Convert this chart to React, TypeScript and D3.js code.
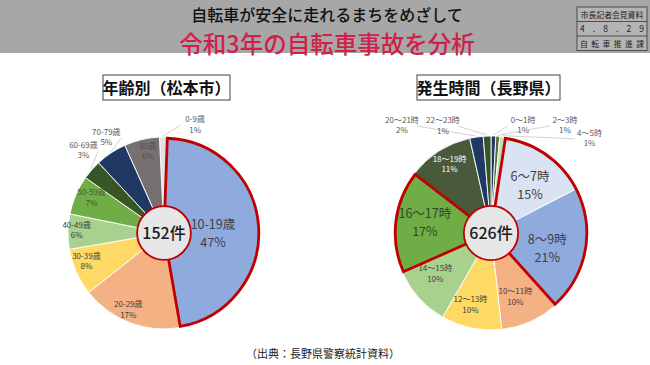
import { useEffect } from 'react'
import * as d3 from 'd3'

// 年齢別（松本市） 152件
const ageNames = ['0-9歳', '10-19歳', '20-29歳', '30-39歳', '40-49歳', '50-59歳', '60-69歳', '70-79歳', '80歳']
const ageCounts = [2, 71, 26, 12, 9, 10, 5, 8, 9]
const ageColors = ['#e2e2e2', '#8faadc', '#f4b183', '#ffd966', '#a9d18e', '#70ad47', '#375623', '#203864', '#767171']

// 発生時間（長野県） 626件
const hourNames = ['0～1時', '2～3時', '4～5時', '6～7時', '8～9時', '10～11時', '12～13時', '14～15時', '16～17時', '18～19時', '20～21時', '22～23時']
const hourCounts = [5, 4, 6, 94, 131, 62, 63, 63, 107, 69, 14, 8]
const hourColors = ['#203864', '#4e6b3a', '#c5e0b4', '#dae3f3', '#8faadc', '#f4b183', '#ffd966', '#a9d18e', '#70ad47', '#485a3a', '#203864', '#375623']

// label placement: angle in degrees (clockwise from top), k = fraction of radius (or px when out)
type Lab = { a: number; k: number; out?: boolean; big?: boolean; color?: string }
const ageLayout: Lab[] = [
  { a: 16, k: 113, out: true },
  { a: 91, k: 0.51, big: true },
  { a: 205, k: 0.88 },
  { a: 250, k: 0.86 },
  { a: 272, k: 0.91 },
  { a: 296, k: 0.84, color: '#3d5e2a' },
  { a: 316, k: 116, out: true },
  { a: 329, k: 112, out: true },
  { a: 349, k: 0.87, color: '#505050' },
]
const hourLayout: Lab[] = [
  { a: 16.5, k: 113, out: true },
  { a: 34.4, k: 131, out: true },
  { a: 46, k: 137, out: true },
  { a: 39.7, k: 0.63, big: true },
  { a: 105, k: 0.6, big: true },
  { a: 159, k: 0.7 },
  { a: 196, k: 0.77 },
  { a: 234, k: 0.71 },
  { a: 278.6, k: 0.69, big: true, color: '#2f4a1f' },
  { a: 329, k: 0.83, color: '#ffffff' },
  { a: 320.5, k: 140, out: true },
  { a: 336, k: 118, out: true },
]

const RED = '#c00000'
const FONT = '"Noto Sans CJK JP", "Noto Sans", sans-serif'

type PieProps = {
  cx: number
  cy: number
  r: number
  names: string[]
  counts: number[]
  colors: string[]
  layout: Lab[]
  start: number
  redGroups: number[][]
  total: string
}

const polar = (cx: number, cy: number, deg: number, rad: number): [number, number] => {
  const t = (deg * Math.PI) / 180
  return [cx + rad * Math.sin(t), cy - rad * Math.cos(t)]
}

const Pie = ({ cx, cy, r, names, counts, colors, layout, start, redGroups, total }: PieProps) => {
  const sum = d3.sum(counts)
  const pie = d3
    .pie<number>()
    .sort(null)
    .value((d) => d)
    .startAngle(start)
    .endAngle(start + Math.PI * 2)
  const arcs = pie(counts)
  const arc = d3.arc<d3.PieArcDatum<number>>().innerRadius(0).outerRadius(r)
  const pct = counts.map((c) => `${Math.round((c / sum) * 100)}%`)

  return (
    <g>
      <g transform={`translate(${cx},${cy})`}>
        {arcs.map((a, i) => (
          <path key={i} d={arc(a) || ''} fill={colors[i]} stroke="#ffffff" strokeWidth={0.9} />
        ))}
        {redGroups.map((g, i) => {
          const s = arcs[g[0]].startAngle
          const e = arcs[g[g.length - 1]].endAngle
          const p = d3.arc()({ innerRadius: 0, outerRadius: r - 1.2, startAngle: s, endAngle: e } as any)
          return <path key={'r' + i} d={p || ''} fill="none" stroke={RED} strokeWidth={2.8} strokeLinejoin="miter" />
        })}
        <circle r={r * 0.28} fill="#e7e6e6" stroke={RED} strokeWidth={1.8} />
        <text y={6} textAnchor="middle" fontSize={16} fontWeight={500} fill="#1a1a1a" fontFamily={FONT}>
          {total}
        </text>
      </g>
      {arcs.map((a, i) => {
        const L = layout[i]
        if (L.out) {
          const [lx, ly] = polar(cx, cy, L.a, L.k)
          const mid = ((a.startAngle + a.endAngle) / 2) * (180 / Math.PI)
          const [ax, ay] = polar(cx, cy, mid, r + 1)
          const ex = lx < cx ? lx + 15 : lx - 15
          return (
            <g key={'o' + i} fontFamily={FONT}>
              <line x1={ax} y1={ay} x2={ex} y2={ly + 1} stroke="#bfbfbf" strokeWidth={0.7} />
              <text x={lx} y={ly - 2} textAnchor="middle" fontSize={8} fill="#595959">{names[i]}</text>
              <text x={lx} y={ly + 8.5} textAnchor="middle" fontSize={8} fill="#595959">{pct[i]}</text>
            </g>
          )
        }
        const [lx, ly] = polar(cx, cy, L.a, L.k * r)
        const fs = L.big ? 12.5 : 8
        const gap = L.big ? 18 : 10.5
        return (
          <g key={'l' + i} fontFamily={FONT} fill={L.color || '#404040'} fontSize={fs}>
            <text x={lx} y={ly - gap / 2 + fs * 0.36} textAnchor="middle">{names[i]}</text>
            <text x={lx} y={ly + gap / 2 + fs * 0.36} textAnchor="middle">{pct[i]}</text>
          </g>
        )
      })}
    </g>
  )
}

const App = () => {
  useEffect(() => {
    document.body.style.margin = '0'
  }, [])

  const boxRows = ['市長記者会見資料', '4 . 8 . 2 9', '自転車推進課']
  const rowY = d3.range(boxRows.length).map((i) => 7 + i * 14.5)

  return (
    <svg width={650} height={365} style={{ display: 'block', background: '#ffffff' }} fontFamily={FONT}>
      <rect x={0} y={0} width={650} height={53} fill="#a7a7a7" />
      <text x={327} y={20.5} textAnchor="middle" fontSize={16} fill="#111111" fontWeight={500}>
        自転車が安全に走れるまちをめざして
      </text>
      <text x={327} y={53} textAnchor="middle" fontSize={23.5} fill="#d11f4b" fontWeight={500}>
        令和3年の自転車事故を分析
      </text>
      <g>
        <rect x={577} y={7} width={70} height={43.5} fill="#b4b4b4" stroke="#333333" strokeWidth={0.8} />
        {rowY.slice(1).map((y, i) => (
          <line key={i} x1={577} x2={647} y1={y} y2={y} stroke="#333333" strokeWidth={0.8} />
        ))}
        <text x={612} y={17.5} textAnchor="middle" fontSize={7.8} fill="#222222">{boxRows[0]}</text>
        <text x={612} y={32} textAnchor="middle" fontSize={8.5} fill="#222222" textLength={64} lengthAdjust="spacing">
          {boxRows[1]}
        </text>
        <text x={612} y={46.5} textAnchor="middle" fontSize={7.8} fill="#222222" textLength={64} lengthAdjust="spacing">
          {boxRows[2]}
        </text>
      </g>

      <rect x={103} y={75} width={127} height={25} fill="#ffffff" stroke="#404040" strokeWidth={1} />
      <text x={166.5} y={93.5} textAnchor="middle" fontSize={16} fontWeight={700} fill="#111111">
        年齢別（松本市）
      </text>
      <rect x={417} y={75} width={143} height={25} fill="#ffffff" stroke="#404040" strokeWidth={1} />
      <text x={488.5} y={93.5} textAnchor="middle" fontSize={16} fontWeight={700} fill="#111111">
        発生時間（長野県）
      </text>

      <Pie
        cx={164}
        cy={233}
        r={96}
        names={ageNames}
        counts={ageCounts}
        colors={ageColors}
        layout={ageLayout}
        start={((2 - (ageCounts[0] / d3.sum(ageCounts)) * 360) * Math.PI) / 180}
        redGroups={[[1]]}
        total="152件"
      />
      <Pie
        cx={491}
        cy={233}
        r={97}
        names={hourNames}
        counts={hourCounts}
        colors={hourColors}
        layout={hourLayout}
        start={0}
        redGroups={[[3, 4], [8]]}
        total="626件"
      />

      <text x={323} y={358} textAnchor="middle" fontSize={11} fill="#222222">
        （出典：長野県警察統計資料）
      </text>
    </svg>
  )
}

export default App
